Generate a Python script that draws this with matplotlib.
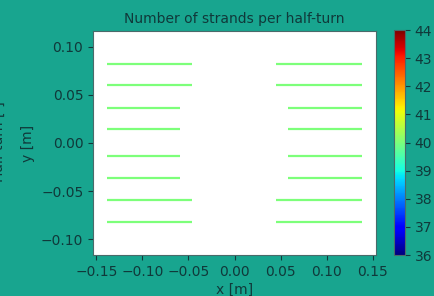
import matplotlib
matplotlib.use("Agg")
import matplotlib.pyplot as plt
import numpy as np
from matplotlib.collections import LineCollection
from matplotlib.colors import Normalize

# Half-turn data (left and right coil sides)
y_levels = [0.0825, 0.0605, 0.0365, 0.0145, -0.0140, -0.0360, -0.0595, -0.0820]
left_x_start = [-0.1387] * 8
left_x_end = [-0.0458, -0.0458, -0.0591, -0.0591, -0.0591, -0.0591, -0.0458, -0.0458]
right_x_start = [0.0451, 0.0451, 0.0585, 0.0585, 0.0585, 0.0585, 0.0451, 0.0451]
right_x_end = [0.1382] * 8
strands = [40] * 16

x_ticks = [-0.15, -0.10, -0.05, 0.00, 0.05, 0.10, 0.15]
y_ticks = [-0.10, -0.05, 0.00, 0.05, 0.10]
cbar_ticks = [36, 37, 38, 39, 40, 41, 42, 43, 44]

bg = "#18a58f"
fg = "#10393a"

fig = plt.figure(figsize=(4.34, 2.96), dpi=100, facecolor=bg)
ax = fig.add_axes([0.2143, 0.1385, 0.6521, 0.7568])
cax = fig.add_axes([0.9078, 0.1385, 0.0253, 0.7600])

segs = []
for y, xs, xe in zip(y_levels, left_x_start, left_x_end):
    segs.append([(xs, y), (xe, y)])
for y, xs, xe in zip(y_levels, right_x_start, right_x_end):
    segs.append([(xs, y), (xe, y)])

norm = Normalize(vmin=36, vmax=44)
lc = LineCollection(segs, cmap="jet", norm=norm, linewidths=1.6)
lc.set_array(np.array(strands, dtype=float))
ax.add_collection(lc)

ax.set_xlim(-0.1536, 0.1536)
ax.set_ylim(-0.1163, 0.1163)
ax.set_xticks(x_ticks)
ax.set_yticks(y_ticks)
ax.set_xticklabels([f"{v:.2f}".replace("-", "\u2212") for v in x_ticks])
ax.set_yticklabels([f"{v:.2f}".replace("-", "\u2212") for v in y_ticks])
ax.set_facecolor("white")
for s in ax.spines.values():
    s.set_color("#4a6a6a")
ax.tick_params(colors=fg, labelsize=10, labelcolor=fg)
ax.set_xlabel("x [m]", color=fg, fontsize=10, labelpad=3)
ax.set_ylabel("y [m]", color=fg, fontsize=10, labelpad=4)
ax.set_title("Number of strands per half-turn", color=fg, fontsize=10, pad=6)

cb = fig.colorbar(lc, cax=cax, ticks=cbar_ticks)
cb.ax.tick_params(colors=fg, labelsize=10, labelcolor=fg)
cb.outline.set_edgecolor("#4a6a6a")

# clipped label of the neighbouring panel at the left figure edge
fig.text(-0.002, 0.52, "Half-turn [-]", rotation=90, ha="center", va="center",
         color=fg, fontsize=10)

fig.savefig("out.png", dpi=100, facecolor=bg)
